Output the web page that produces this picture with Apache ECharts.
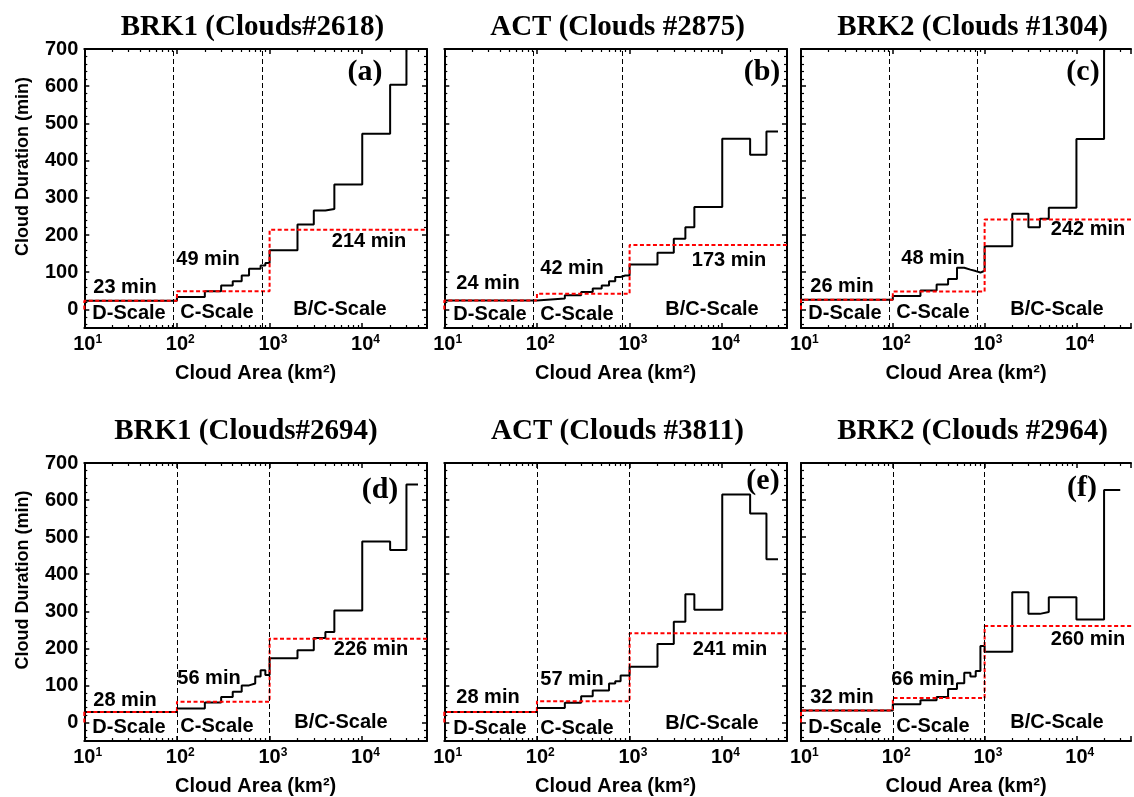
<!DOCTYPE html>
<html>
<head>
<meta charset="utf-8">
<script src="https://cdn.jsdelivr.net/npm/echarts@6/dist/echarts.min.js"></script>
<style>
html, body { margin: 0; padding: 0; background: #fff; }
#main { width: 1134px; height: 797px; }
</style>
</head>
<body>
<div id="main"></div>
<script>
// 面板标题与编号
const titles = ['BRK1 (Clouds#2618)', 'ACT (Clouds #2875)', 'BRK2 (Clouds #1304)',
                'BRK1 (Clouds#2694)', 'ACT (Clouds #3811)', 'BRK2 (Clouds #2964)'];
const tags = ['(a)', '(b)', '(c)', '(d)', '(e)', '(f)'];

// 云面积分箱边界 (km^2)
const binEdges = [10, 100, 200, 300, 400, 500, 600, 700, 800, 900, 1000,
                  2000, 3000, 4000, 5000, 10000, 20000, 30000, 40000];

// 每个分箱的平均持续时间 (min)
const durA = [23, 33, 49, 64, 76, 91, 109, 109, 118, 125, 159, 228, 266, 270, 336, 472, 604, 760];
const durB = [24, 29, 38, 47, 56, 64, 76, 87, 91, 91, 121, 152, 190, 221, 275, 459, 416, 478];
const durC = [26, 36, 51, 67, 82, 112, 107, 103, 99, 104, 170, 257, 221, 244, 273, 458, 760];
const durD = [28, 38, 54, 69, 83, 100, 105, 124, 141, 128, 173, 195, 228, 244, 302, 488, 465, 642];
const durE = [28, 39, 53, 71, 86, 86, 105, 111, 127, 127, 150, 212, 272, 346, 304, 615, 564, 440];
const durF = [32, 49, 60, 69, 90, 106, 134, 124, 139, 206, 191, 351, 293, 298, 338, 278, 627];

// 各尺度平均值 (D, C, B/C)
const meanA = [23, 49, 214];
const meanB = [24, 42, 173];
const meanC = [26, 48, 242];
const meanD = [28, 56, 226];
const meanE = [28, 57, 241];
const meanF = [32, 66, 260];

// 尺度分界
const scaleEdges = [10, 100, 1000, 50000];
const boundsTop = [92, 840];
const boundsBottom = [100, 1000];
const scaleNames = ['D-Scale', 'C-Scale', 'B/C-Scale'];

// 刻度
const yLabels = [0, 100, 200, 300, 400, 500, 600, 700];
const xMin = 10;
const xMaxCol = [50000, 50000, 39300]; // 第三列右侧被裁切

const durs = [durA, durB, durC, durD, durE, durF];
const means = [meanA, meanB, meanC, meanD, meanE, meanF];

// 版面 (像素)
const lefts = [84.3, 444.3, 801, 84.3, 444.3, 801];
const tops = [49, 49, 49, 463, 463, 463];
const widths = [342.7, 342.7, 333];
const gh = 279;
const titlePos = [[252.5, 28], [617.5, 28], [972.5, 28], [246, 432], [617.5, 432], [972.5, 432]];
const tagPos = [[365, 72], [762, 72], [1083, 72], [380, 490], [763, 481], [1082, 488]];
const meanPos = [
  [[125, 287], [208, 259], [369, 241]],
  [[488, 283], [572, 268], [729, 260]],
  [[842, 286], [933, 258], [1088, 229]],
  [[125, 700], [209, 678], [371, 649]],
  [[488, 697], [572, 679], [730, 649]],
  [[842, 697], [923, 679], [1088, 639]]
];
const scalePos = [
  [[129, 313], [217, 312], [340, 309]],
  [[490, 314], [577, 314], [712, 309]],
  [[845, 313], [933, 312], [1057, 309]],
  [[129, 727], [217, 726], [341, 722]],
  [[490, 728], [577, 728], [712, 723]],
  [[845, 727], [933, 726], [1057, 722]]
];

const SANS = '"Liberation Sans", Arial, sans-serif';
const SERIF = '"Liberation Serif", "Times New Roman", serif';

// 次刻度
const yMinor = [];
for (let v = -40; v <= 680; v += 20) if (v % 100 !== 0) yMinor.push(v);

var chart = echarts.init(document.getElementById('main'));

const grids = [], xAxes = [], yAxes = [], series = [], graphics = [];
const axisLine = { show: true, onZero: false, lineStyle: { color: '#000', width: 2 } };
const noLine = { show: false, onZero: false };

for (let i = 0; i < 6; i++) {
  const col = i % 3;
  const xMax = xMaxCol[col];
  const xMinor = [];
  for (let n = 1; n <= 4; n++) for (let k = 2; k <= 9; k++) {
    const v = k * Math.pow(10, n);
    if (v < xMax) xMinor.push(Math.log10(v));
  }

  grids.push({ left: lefts[i], top: tops[i], width: widths[col], height: gh });
  const majorTick = { show: true, inside: true, length: 5, lineStyle: { color: '#000', width: 1.5 } };
  const minorTickX = { show: true, inside: true, length: 3, lineStyle: { color: '#000', width: 1.2 }, customValues: xMinor };
  const minorTickY = { show: col !== 2, inside: true, length: 3, lineStyle: { color: '#000', width: 1.2 }, customValues: yMinor };

  xAxes.push({
    gridIndex: i, type: 'log', logBase: 10, min: xMin, max: xMax, position: 'bottom',
    axisLine: axisLine, axisTick: majorTick, splitLine: { show: false },
    axisLabel: {
      margin: 6,
      formatter: function (v) {
        const e = Math.log10(v);
        if (Math.abs(e - Math.round(e)) > 1e-6) return '';
        const n = Math.round(e);
        return '{h|' + n + '}{b|10}{s|' + n + '}';
      },
      rich: {
        b: { fontSize: 20, fontWeight: 'bold', fontFamily: SANS, color: '#000' },
        s: { fontSize: 12, fontWeight: 'bold', fontFamily: SANS, color: '#000', verticalAlign: 'top' },
        h: { fontSize: 12, fontWeight: 'bold', fontFamily: SANS, color: 'transparent', verticalAlign: 'top' }
      }
    },
    name: 'Cloud Area (km²)', nameLocation: 'middle', nameGap: 35,
    nameTextStyle: { fontSize: 20, fontWeight: 'bold', fontFamily: SANS, color: '#000' }
  });
  xAxes.push({
    gridIndex: i, type: 'value', min: 1, max: Math.log10(xMax), position: 'bottom',
    axisLine: noLine, axisTick: minorTickX, axisLabel: { show: false }, splitLine: { show: false }
  });
  xAxes.push({
    gridIndex: i, type: 'log', logBase: 10, min: xMin, max: xMax, position: 'top',
    axisLine: axisLine, axisTick: majorTick, axisLabel: { show: false }, splitLine: { show: false }
  });
  xAxes.push({
    gridIndex: i, type: 'value', min: 1, max: Math.log10(xMax), position: 'top',
    axisLine: noLine, axisTick: minorTickX, axisLabel: { show: false }, splitLine: { show: false }
  });

  const firstCol = (col === 0);
  yAxes.push({
    gridIndex: i, type: 'value', min: -50, max: 700, position: 'left',
    axisLine: axisLine, splitLine: { show: false },
    axisTick: Object.assign({}, majorTick, { customValues: yLabels }),
    axisLabel: {
      show: firstCol, customValues: yLabels, margin: 6,
      fontSize: 20, fontWeight: 'bold', fontFamily: SANS, color: '#000'
    },
    name: firstCol ? 'Cloud Duration (min)' : '', nameLocation: 'middle', nameRotate: 90, nameGap: 52,
    nameTextStyle: { fontSize: 18, fontWeight: 'bold', fontFamily: SANS, color: '#000', padding: [0, 0, 0, 44] }
  });
  yAxes.push({
    gridIndex: i, type: 'value', min: -50, max: 700, position: 'left',
    axisLine: noLine, axisTick: Object.assign({}, minorTickY, { show: true }), axisLabel: { show: false }, splitLine: { show: false }
  });
  yAxes.push({
    gridIndex: i, type: 'value', min: -50, max: 700, position: 'right',
    axisLine: col === 2 ? noLine : axisLine, splitLine: { show: false },
    axisTick: Object.assign({}, majorTick, { show: col !== 2, customValues: yLabels }), axisLabel: { show: false }
  });
  yAxes.push({
    gridIndex: i, type: 'value', min: -50, max: 700, position: 'right',
    axisLine: noLine, axisTick: minorTickY, axisLabel: { show: false }, splitLine: { show: false }
  });

  // 阶梯线数据
  const d = durs[i];
  const stepData = d.map((v, k) => [binEdges[k], v]);
  stepData.push([binEdges[d.length], d[d.length - 1]]);

  const m = means[i];
  const meanData = [[scaleEdges[0], 0]];
  m.forEach((v, k) => meanData.push([scaleEdges[k], v]));
  meanData.push([scaleEdges[3], m[2]]);

  const bounds = i < 3 ? boundsTop : boundsBottom;

  series.push({
    type: 'line', xAxisIndex: 4 * i, yAxisIndex: 4 * i, data: stepData, step: 'end',
    symbol: 'none', lineStyle: { color: '#000', width: 2 }, z: 3,
    markLine: {
      silent: true, symbol: ['none', 'none'], label: { show: false },
      lineStyle: { color: '#000', type: [5, 3], width: 1 },
      data: bounds.map(b => ({ xAxis: b }))
    }
  });
  series.push({
    type: 'line', xAxisIndex: 4 * i, yAxisIndex: 4 * i, data: meanData, step: 'end',
    symbol: 'none', lineStyle: { color: '#ff0000', width: 2, type: [4, 2.5] }, z: 4
  });

  // 文字
  const center = { align: 'center', verticalAlign: 'middle', textAlign: 'center', textVerticalAlign: 'middle', fill: '#000' };
  graphics.push({
    type: 'text', x: titlePos[i][0], y: titlePos[i][1],
    style: Object.assign({ text: titles[i], font: 'bold 29px ' + SERIF }, center)
  });
  graphics.push({
    type: 'text', x: tagPos[i][0], y: tagPos[i][1], z: 10,
    style: Object.assign({ text: tags[i], font: 'bold 30px ' + SERIF }, center)
  });
  for (let k = 0; k < 3; k++) {
    graphics.push({
      type: 'text', x: meanPos[i][k][0], y: meanPos[i][k][1], z: 10,
      style: Object.assign({ text: m[k] + ' min', font: 'bold 20px ' + SANS }, center)
    });
    graphics.push({
      type: 'text', x: scalePos[i][k][0], y: scalePos[i][k][1], z: 10,
      style: Object.assign({ text: scaleNames[k], font: 'bold 20px ' + SANS }, center)
    });
  }
}

const option = {
  animation: false,
  backgroundColor: '#fff',
  grid: grids,
  xAxis: xAxes,
  yAxis: yAxes,
  series: series,
  graphic: graphics
};

chart.setOption(option);
</script>
</body>
</html>
